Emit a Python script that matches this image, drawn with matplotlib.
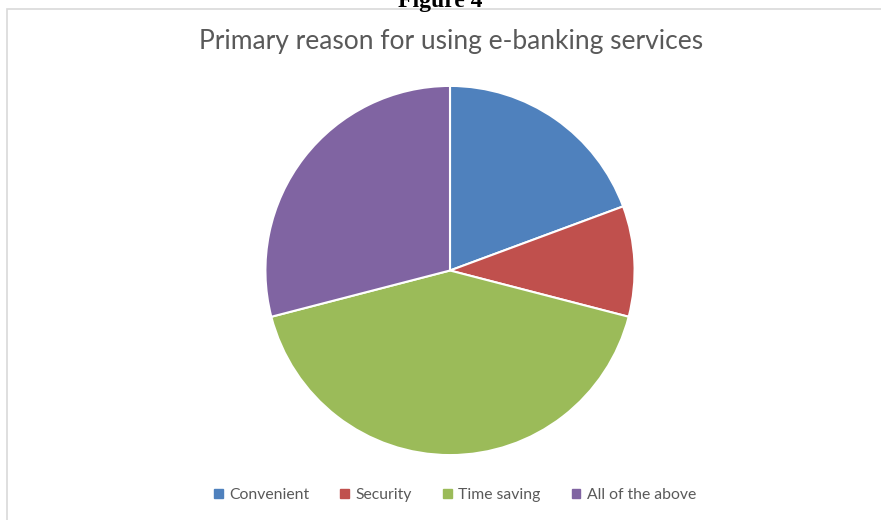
import matplotlib.pyplot as plt
from matplotlib.patches import Rectangle

labels = ['Convenient', 'Security', 'Time saving', 'All of the above']
counts = [6, 3, 13, 9]
colors = ['#4F81BD', '#C0504D', '#9BBB59', '#8064A2']

plt.rcParams['font.family'] = ['Lato', 'DejaVu Sans']

fig = plt.figure(figsize=(8.81, 5.20), dpi=100)

# chart frame
fig.patches.append(Rectangle((7 / 881, -0.01), 1.0, 1 - 9 / 520 + 0.01,
                             transform=fig.transFigure, fill=False,
                             edgecolor='#D9D9D9', lw=1.2))

# caption above the frame, cut off by the page edge
fig.text(0.5, 1.0 - 2 / 520, 'Figure 4', ha='center', va='center',
         family='Liberation Serif', weight='bold', fontsize=17, color='black')

fig.text(451 / 881, 1 - 42 / 520, 'Primary reason for using e-banking services',
         ha='center', va='center', fontsize=19, color='#595959')

r = 185.5
cx, cy = 450, 270.5
ax = fig.add_axes(((cx - r) / 881, 1 - (cy + r) / 520, 2 * r / 881, 2 * r / 520))
ax.pie(counts, colors=colors, startangle=90, counterclock=False, radius=1,
       wedgeprops=dict(edgecolor='white', linewidth=1.5))
ax.set_xlim(-1.005, 1.005)
ax.set_ylim(-1.005, 1.005)
ax.set_aspect('equal')

handles = [plt.Rectangle((0, 0), 1, 1, color=c) for c in colors]
fig.legend(handles, labels, loc='center', bbox_to_anchor=(455 / 881, 1 - 495 / 520),
           ncol=4, frameon=False, fontsize=11.3, handlelength=0.55, handleheight=0.55,
           handletextpad=0.4, columnspacing=2.0, labelcolor='#595959')

fig.savefig('out.png', dpi=100)
